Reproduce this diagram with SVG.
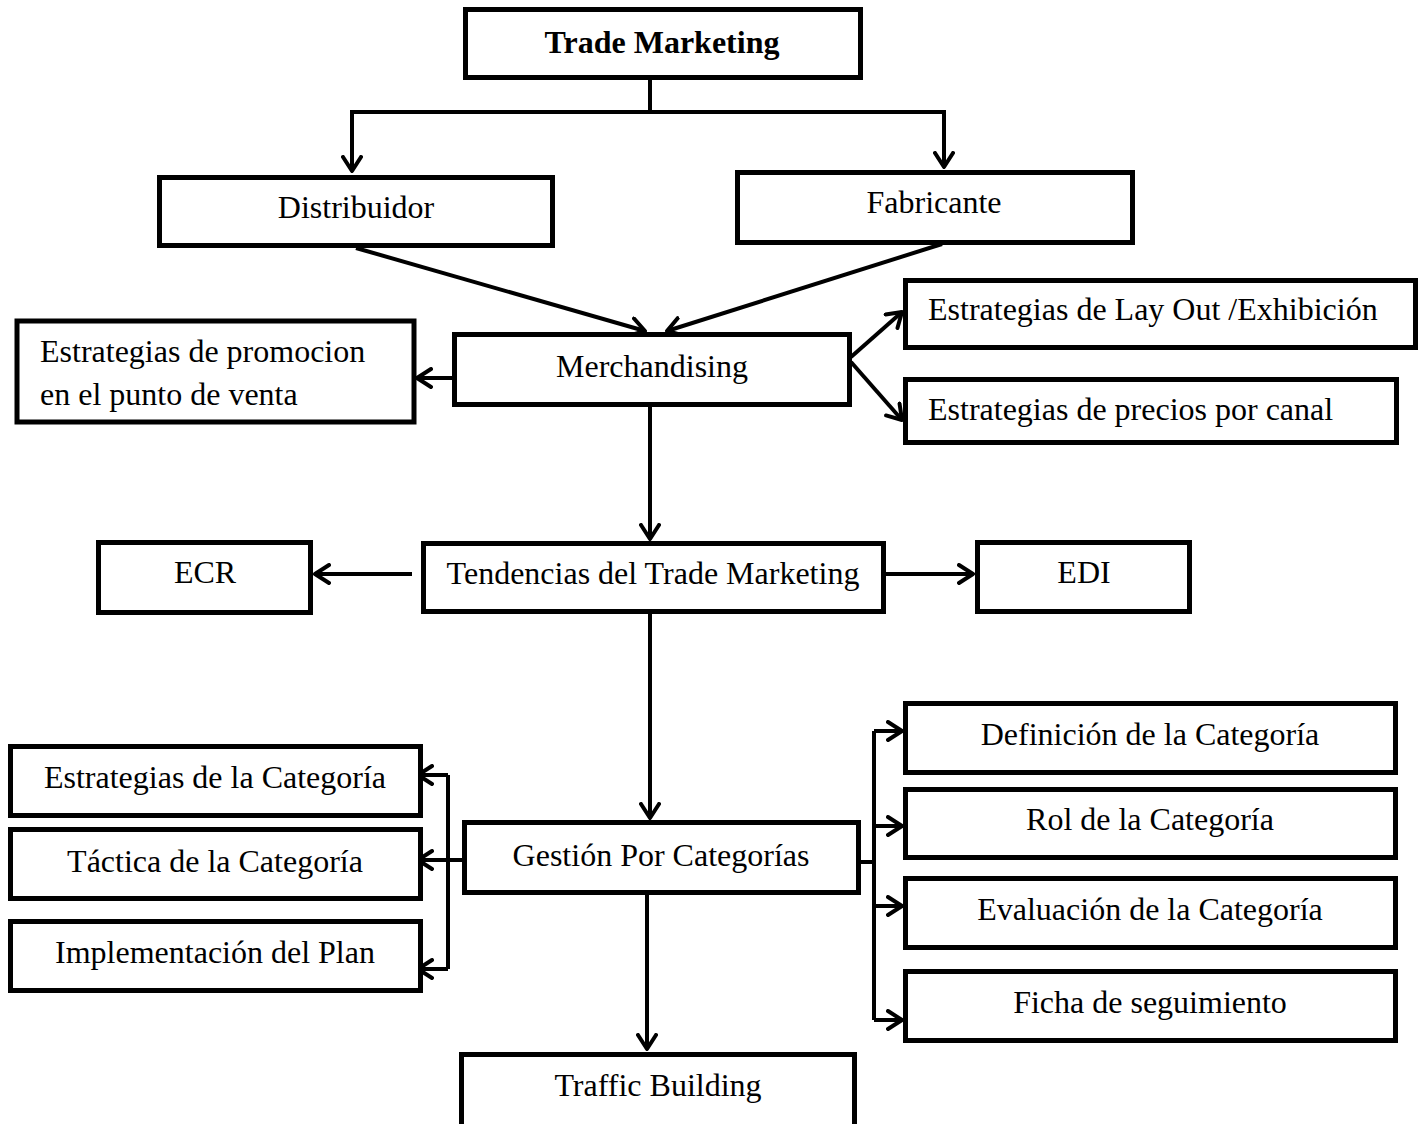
<svg xmlns="http://www.w3.org/2000/svg" width="1424" height="1124" viewBox="0 0 1424 1124">
  <style>
    .box { fill: #ffffff; stroke: #000000; stroke-width: 5; }
    .lbl { font-family: "Liberation Serif", "Times New Roman", serif; font-size: 32px; fill: #000000; }
    .c { text-anchor: middle; }
    .bold { font-weight: bold; }
    .wire { fill: none; stroke: #000000; stroke-width: 4; }
  </style>
  <defs>
    <marker id="arrow" viewBox="0 0 18 22" refX="16" refY="11" markerWidth="18" markerHeight="22" markerUnits="userSpaceOnUse" orient="auto">
      <path d="M2,2 L16,11 L2,20" fill="none" stroke="#000000" stroke-width="4" stroke-linecap="round" stroke-linejoin="round"/>
    </marker>
  </defs>
  <rect width="1424" height="1124" fill="#ffffff"/>

  <!-- connectors -->
  <g id="connectors" class="wire">
    <path d="M650,80 V112 H352 V171" marker-end="url(#arrow)"/>
    <path d="M650,112 H944 V167" marker-end="url(#arrow)"/>
    <path d="M356,248 L645,331" marker-end="url(#arrow)"/>
    <path d="M942,244 L667,331" marker-end="url(#arrow)"/>
    <path d="M452,378 H417" marker-end="url(#arrow)"/>
    <path d="M851,357 L902,312" marker-end="url(#arrow)"/>
    <path d="M851,362 L902,420" marker-end="url(#arrow)"/>
    <path d="M650,407 V539" marker-end="url(#arrow)"/>
    <path d="M412,574 H315" marker-end="url(#arrow)"/>
    <path d="M886,574 H973" marker-end="url(#arrow)"/>
    <path d="M650,614 V818" marker-end="url(#arrow)"/>
    <path d="M462,860 H448"/>
    <path d="M448,775 V969"/>
    <path d="M448,775 H418" marker-end="url(#arrow)"/>
    <path d="M448,860 H418" marker-end="url(#arrow)"/>
    <path d="M448,969 H418" marker-end="url(#arrow)"/>
    <path d="M861,862 H874"/>
    <path d="M874,731 V1020"/>
    <path d="M874,731 H902" marker-end="url(#arrow)"/>
    <path d="M874,826 H902" marker-end="url(#arrow)"/>
    <path d="M874,906 H902" marker-end="url(#arrow)"/>
    <path d="M874,1020 H902" marker-end="url(#arrow)"/>
    <path d="M647,895 V1049" marker-end="url(#arrow)"/>
  </g>

  <!-- nodes -->
  <g id="trade-marketing">
    <rect class="box" x="465.5" y="9.5" width="395" height="68"/>
    <text class="lbl c bold" x="662" y="53">Trade Marketing</text>
  </g>
  <g id="distribuidor">
    <rect class="box" x="159.5" y="177.5" width="393" height="68"/>
    <text class="lbl c" x="356" y="218">Distribuidor</text>
  </g>
  <g id="fabricante">
    <rect class="box" x="737.5" y="172.5" width="395" height="70"/>
    <text class="lbl c" x="934" y="213">Fabricante</text>
  </g>
  <g id="merchandising">
    <rect class="box" x="454.5" y="334.5" width="395" height="70"/>
    <text class="lbl c" x="652" y="377">Merchandising</text>
  </g>
  <g id="promocion">
    <rect class="box" x="17" y="321" width="397" height="101"/>
    <text class="lbl" x="40" y="362">Estrategias de promocion</text>
    <text class="lbl" x="40" y="405">en el punto de venta</text>
  </g>
  <g id="layout">
    <rect class="box" x="905.5" y="280.5" width="510" height="67"/>
    <text class="lbl" x="928" y="320">Estrategias de Lay Out /Exhibición</text>
  </g>
  <g id="precios">
    <rect class="box" x="905.5" y="379.5" width="491" height="63"/>
    <text class="lbl" x="928" y="420">Estrategias de precios por canal</text>
  </g>
  <g id="tendencias">
    <rect class="box" x="423.5" y="543.5" width="460" height="68"/>
    <text class="lbl c" x="653" y="584">Tendencias del Trade Marketing</text>
  </g>
  <g id="ecr">
    <rect class="box" x="98.5" y="542.5" width="212" height="70"/>
    <text class="lbl c" x="205" y="583">ECR</text>
  </g>
  <g id="edi">
    <rect class="box" x="977.5" y="542.5" width="212" height="69"/>
    <text class="lbl c" x="1084" y="583">EDI</text>
  </g>
  <g id="gestion">
    <rect class="box" x="464.5" y="822.5" width="394" height="70"/>
    <text class="lbl c" x="661" y="866">Gestión Por Categorías</text>
  </g>
  <g id="estrategias-categoria">
    <rect class="box" x="10.5" y="746.5" width="410" height="69"/>
    <text class="lbl c" x="215" y="788">Estrategias de la Categoría</text>
  </g>
  <g id="tactica">
    <rect class="box" x="10.5" y="829.5" width="410" height="69"/>
    <text class="lbl c" x="215" y="872">Táctica de la Categoría</text>
  </g>
  <g id="implementacion">
    <rect class="box" x="10.5" y="921.5" width="410" height="69"/>
    <text class="lbl c" x="215" y="963">Implementación del Plan</text>
  </g>
  <g id="definicion">
    <rect class="box" x="905.5" y="703.5" width="490" height="69"/>
    <text class="lbl c" x="1150" y="745">Definición de la Categoría</text>
  </g>
  <g id="rol">
    <rect class="box" x="905.5" y="789.5" width="490" height="68"/>
    <text class="lbl c" x="1150" y="830">Rol de la Categoría</text>
  </g>
  <g id="evaluacion">
    <rect class="box" x="905.5" y="878.5" width="490" height="69"/>
    <text class="lbl c" x="1150" y="920">Evaluación de la Categoría</text>
  </g>
  <g id="ficha">
    <rect class="box" x="905.5" y="971.5" width="490" height="69"/>
    <text class="lbl c" x="1150" y="1013">Ficha de seguimiento</text>
  </g>
  <g id="traffic-building">
    <rect class="box" x="461.5" y="1054.5" width="393" height="72"/>
    <text class="lbl c" x="658" y="1096">Traffic Building</text>
  </g>
</svg>
